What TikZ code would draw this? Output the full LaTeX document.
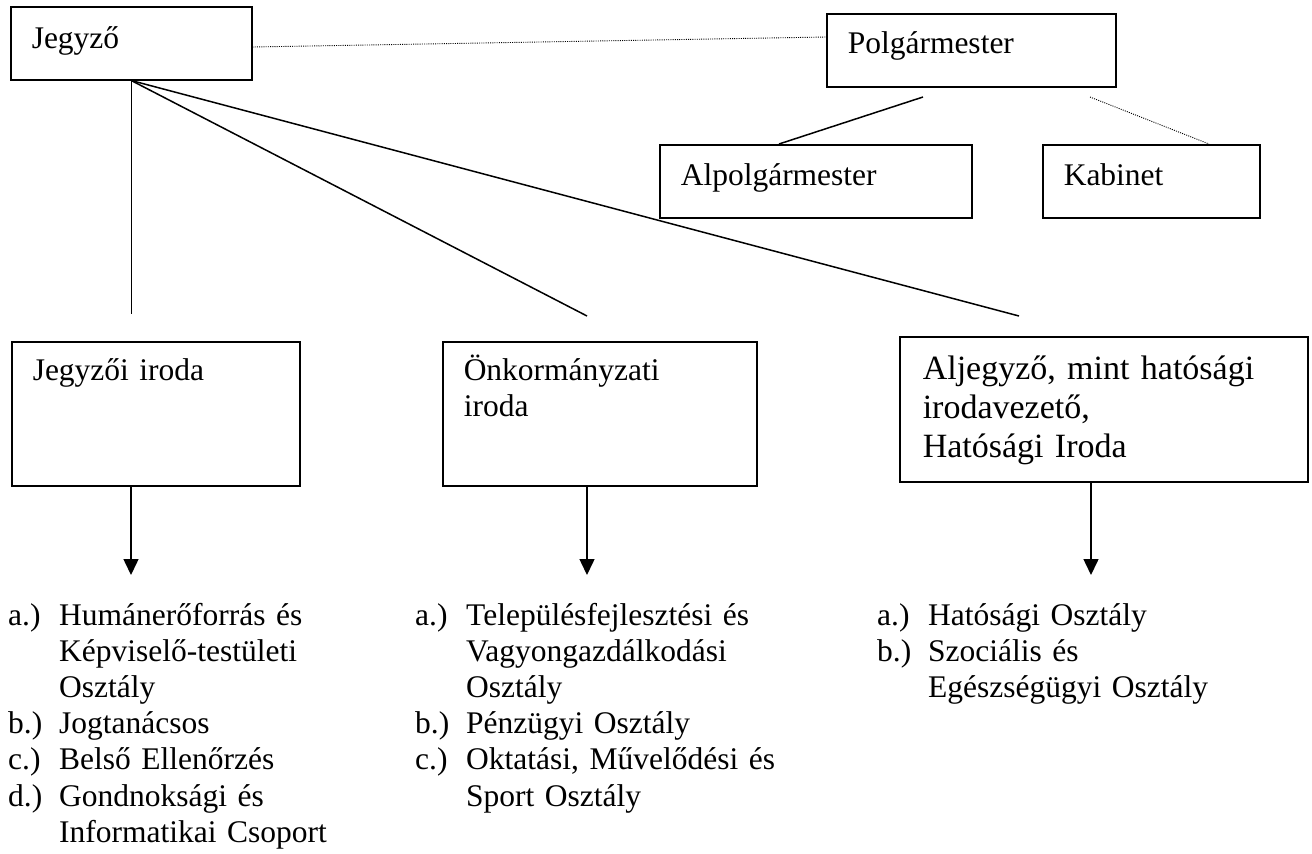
\documentclass[tikz,border=0pt]{standalone}
\usepackage{fontspec}
\setmainfont{Liberation Serif}
\usetikzlibrary{arrows.meta}
\newcommand{\itemlbl}[1]{\makebox[51pt][l]{#1}}
\newcommand{\itemcont}{\hspace*{51pt}}

\begin{document}
\begin{tikzpicture}[x=1pt, y=1pt,
    box/.style={rectangle, draw, line width=1.5pt, anchor=north west, align=left, inner xsep=21pt, inner ysep=0pt, font=\fontsize{31.5}{36.2}\selectfont},
    listtext/.style={anchor=base west, align=left, inner sep=0pt, text width=420pt, font=\fontsize{31.5}{36.2}\selectfont},
    link/.style={line width=1.5pt},
    dotlink/.style={line width=0.9pt, dash pattern=on 1pt off 1.2pt},
    arrow/.style={line width=1.5pt, -{Triangle[width=15pt,length=16pt]}}
]
\useasboundingbox (0,0) rectangle (1312,-854);

% top row
\node[box, text width=199pt, text height=42pt, text depth=31pt] (jegyzo) at (10,-6) {Jegyző};
\node[box, text width=247pt, text height=40pt, text depth=33pt] (polg) at (826,-13) {Polgármester};
\node[box, text width=270pt, text height=41pt, text depth=32pt] (alpolg) at (659,-144) {Alpolgármester};
\node[box, text width=175pt, text height=41pt, text depth=32pt] (kabinet) at (1042,-144) {Kabinet};

% offices
\node[box, text width=246pt, text height=39pt, text depth=105pt] (jiroda) at (11,-341) {Jegyzői iroda};
\node[box, text width=272pt, text height=39pt, text depth=105pt] (onkorm) at (442,-341) {Önkormányzati\\iroda};
\node[box, inner xsep=23pt, text width=362pt, text height=43pt, text depth=102pt, font=\fontsize{34}{39}\selectfont] (aljegyzo) at (899,-336) {Aljegyző, mint hatósági\\irodavezető,\\Hatósági Iroda};

% departments
\node[listtext] (jlist) at (8,-625) {\itemlbl{a.)}Humánerőforrás és\\
\itemcont Képviselő-testületi\\
\itemcont Osztály\\
\itemlbl{b.)}Jogtanácsos\\
\itemlbl{c.)}Belső Ellenőrzés\\
\itemlbl{d.)}Gondnoksági és\\
\itemcont Informatikai Csoport};
\node[listtext] (olist) at (415,-625) {\itemlbl{a.)}Településfejlesztési és\\
\itemcont Vagyongazdálkodási\\
\itemcont Osztály\\
\itemlbl{b.)}Pénzügyi Osztály\\
\itemlbl{c.)}Oktatási, Művelődési és\\
\itemcont Sport Osztály};
\node[listtext] (alist) at (877,-625) {\itemlbl{a.)}Hatósági Osztály\\
\itemlbl{b.)}Szociális és\\
\itemcont Egészségügyi Osztály};

% connector ends
\coordinate (jvend) at (jegyzo.south |- 0,-314);
\coordinate (oend) at (587,-316);
\coordinate (aend) at (1019,-316);
\coordinate (pstart) at (923,-97);
\coordinate (apend) at (779,-144);
\coordinate (kstart) at (1090,-97);
\coordinate (kend) at (1209,-144);
\coordinate (jtip) at (131,-575);
\coordinate (otip) at (587,-575);
\coordinate (atip) at (1091,-575);

\draw[dotlink] (jegyzo.east |- 0,-47) -- (polg.west |- 0,-37);
\draw[link] (jegyzo.south) -- (jvend);
\draw[link] (jegyzo.south) -- (oend);
\draw[link] (jegyzo.south) -- (aend);
\draw[link] (pstart) -- (apend);
\draw[dotlink] (kstart) -- (kend);

\draw[arrow] (jtip |- jiroda.south) -- (jtip);
\draw[arrow] (otip |- onkorm.south) -- (otip);
\draw[arrow] (atip |- aljegyzo.south) -- (atip);

\end{tikzpicture}
\end{document}
